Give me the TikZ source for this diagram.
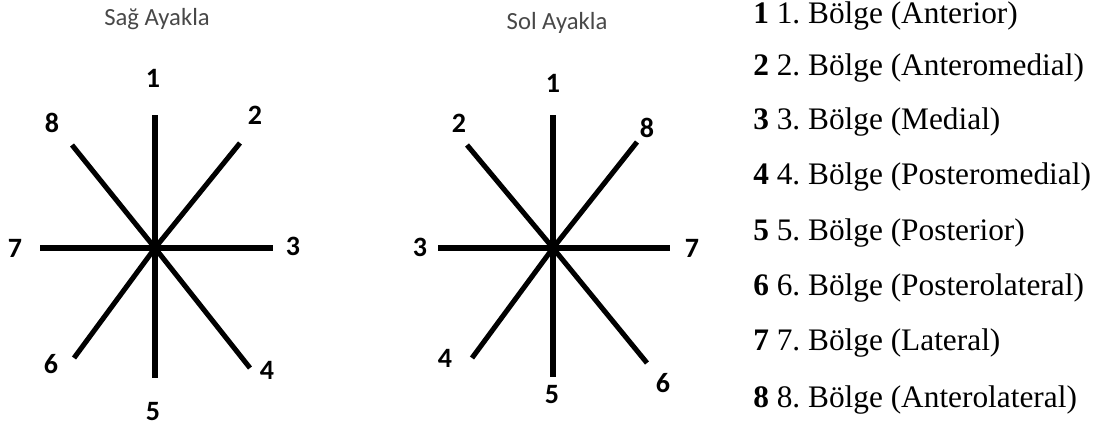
\documentclass[tikz,border=0pt]{standalone}
\usepackage{fontspec}
\setmainfont{Liberation Serif}
\newfontfamily\calibri{Carlito}
\usepackage{xcolor}
\usepackage{tikz}
\definecolor{titlegray}{HTML}{484848}
\frenchspacing

\begin{document}
\begin{tikzpicture}[
  x=0.75pt, y=-0.75pt,
  ray/.style={line width=3.8pt},
  num/.style={inner sep=0pt, font=\calibri\fontsize{21}{24}\selectfont\bfseries},
  ttl/.style={inner sep=0pt, text=titlegray, font=\calibri\fontsize{18.5}{21}\selectfont},
  item/.style={anchor=base west, inner sep=0pt, font=\fontsize{23.5}{27}\selectfont}
]
\useasboundingbox (0,0) rectangle (1110,426);
% right foot
\node[ttl] (rtitle) at (157,19) {Sağ Ayakla};
\coordinate (rc) at (155,248);
\coordinate (r1) at (155,115);
\coordinate (r2) at (240,143);
\coordinate (r3) at (273,248);
\coordinate (r4) at (250,368);
\coordinate (r5) at (155,378);
\coordinate (r6) at (74,358);
\coordinate (r7) at (40,248);
\coordinate (r8) at (72,145);
\foreach \k in {1,...,8} \draw[ray] (rc) -- (r\k);
\node[num] (rl1) at (153,78) {1};
\node[num] (rl2) at (255,115) {2};
\node[num] (rl3) at (293,246) {3};
\node[num] (rl4) at (267,370) {4};
\node[num] (rl5) at (153,412) {5};
\node[num] (rl6) at (51,364) {6};
\node[num] (rl7) at (15,248) {7};
\node[num] (rl8) at (52,123) {8};
% left foot
\node[ttl] (ltitle) at (557,23) {Sol Ayakla};
\coordinate (lc) at (553,248);
\coordinate (l1) at (553,115);
\coordinate (l2) at (467,145);
\coordinate (l3) at (438,248);
\coordinate (l4) at (472,358);
\coordinate (l5) at (553,377);
\coordinate (l6) at (647,363);
\coordinate (l7) at (670,248);
\coordinate (l8) at (637,142);
\foreach \k in {1,...,8} \draw[ray] (lc) -- (l\k);
\node[num] (ll1) at (553,83) {1};
\node[num] (ll2) at (459,123) {2};
\node[num] (ll3) at (420,247) {3};
\node[num] (ll4) at (445,358) {4};
\node[num] (ll5) at (552,395) {5};
\node[num] (ll6) at (663,383) {6};
\node[num] (ll7) at (692,248) {7};
\node[num] (ll8) at (647,128) {8};
% legend
\node[item] (z1) at (753,23) {\textbf{1} 1. Bölge (Anterior)};
\node[item] (z2) at (753,75) {\textbf{2} 2. Bölge (Anteromedial)};
\node[item] (z3) at (753,129) {\textbf{3} 3. Bölge (Medial)};
\node[item] (z4) at (753,184) {\textbf{4} 4. Bölge (Posteromedial)};
\node[item] (z5) at (753,240) {\textbf{5} 5. Bölge (Posterior)};
\node[item] (z6) at (753,295) {\textbf{6} 6. Bölge (Posterolateral)};
\node[item] (z7) at (753,350) {\textbf{7} 7. Bölge (Lateral)};
\node[item] (z8) at (753,407) {\textbf{8} 8. Bölge (Anterolateral)};
\end{tikzpicture}
\end{document}
